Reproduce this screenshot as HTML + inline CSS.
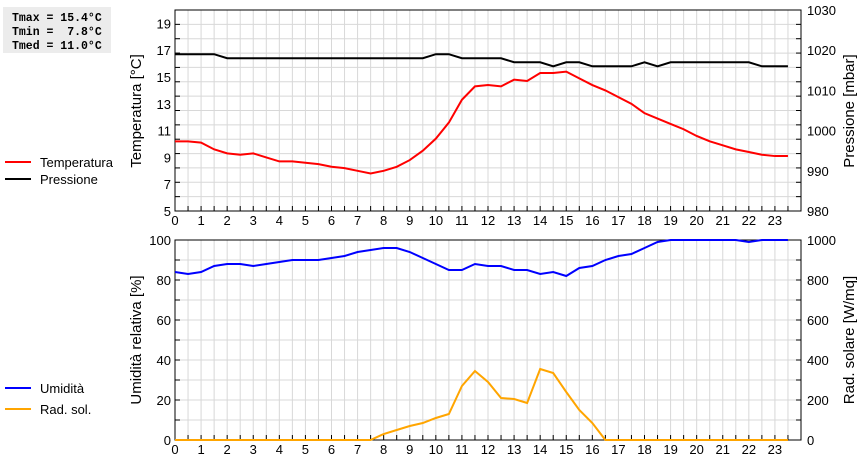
<!DOCTYPE html>
<html><head><meta charset="utf-8"><style>
body{margin:0;background:#fff;width:860px;height:460px;overflow:hidden}
svg{font-family:"Liberation Sans",sans-serif;display:block}
</style></head><body>
<svg id="c" width="860" height="460">
<rect x="3" y="7" width="108" height="46" fill="#ececec"/>
<text x="12" y="21" font-family="Liberation Mono,monospace" font-weight="bold" font-size="11.5" xml:space="preserve">Tmax = 15.4°C</text>
<text x="12" y="35" font-family="Liberation Mono,monospace" font-weight="bold" font-size="11.5" xml:space="preserve">Tmin =  7.8°C</text>
<text x="12" y="49" font-family="Liberation Mono,monospace" font-weight="bold" font-size="11.5" xml:space="preserve">Tmed = 11.0°C</text>
<g><line x1="5" y1="162" x2="31" y2="162" stroke="#f00" stroke-width="2"/><text x="40" y="167" font-size="13">Temperatura</text></g>
<g><line x1="5" y1="179" x2="31" y2="179" stroke="#000" stroke-width="2"/><text x="40" y="184" font-size="13">Pressione</text></g>
<g><line x1="5" y1="388" x2="31" y2="388" stroke="#00f" stroke-width="2"/><text x="40" y="393" font-size="13">Umidità</text></g>
<g><line x1="5" y1="409" x2="31" y2="409" stroke="#ffa500" stroke-width="2"/><text x="40" y="414" font-size="13">Rad. sol.</text></g>
<text transform="translate(141,111) rotate(-90)" text-anchor="middle" font-size="15">Temperatura [°C]</text>
<text transform="translate(854,111) rotate(-90)" text-anchor="middle" font-size="15">Pressione [mbar]</text>
<text transform="translate(141,340) rotate(-90)" text-anchor="middle" font-size="15">Umidità relativa [%]</text>
<text transform="translate(854,340) rotate(-90)" text-anchor="middle" font-size="15">Rad. solare [W/mq]</text>
</svg>
<script>
const hours=[0,0.5,1,1.5,2,2.5,3,3.5,4,4.5,5,5.5,6,6.5,7,7.5,8,8.5,9,9.5,10,10.5,11,11.5,12,12.5,13,13.5,14,14.5,15,15.5,16,16.5,17,17.5,18,18.5,19,19.5,20,20.5,21,21.5,22,22.5,23,23.5];
const temperatura=[10.2,10.2,10.1,9.6,9.3,9.2,9.3,9.0,8.7,8.7,8.6,8.5,8.3,8.2,8.0,7.8,8.0,8.3,8.8,9.5,10.4,11.6,13.3,14.3,14.4,14.3,14.8,14.7,15.3,15.3,15.4,14.9,14.4,14.0,13.5,13.0,12.3,11.9,11.5,11.1,10.6,10.2,9.9,9.6,9.4,9.2,9.1,9.1];
const pressione=[1019,1019,1019,1019,1018,1018,1018,1018,1018,1018,1018,1018,1018,1018,1018,1018,1018,1018,1018,1018,1019,1019,1018,1018,1018,1018,1017,1017,1017,1016,1017,1017,1016,1016,1016,1016,1017,1016,1017,1017,1017,1017,1017,1017,1017,1016,1016,1016];
const umidita=[84,83,84,87,88,88,87,88,89,90,90,90,91,92,94,95,96,96,94,91,88,85,85,88,87,87,85,85,83,84,82,86,87,90,92,93,96,99,100,100,100,100,100,100,99,100,100,100];
const radiazione=[0,0,0,0,0,0,0,0,0,0,0,0,0,0,0,0,30,50,70,85,110,130,270,345,290,210,205,185,355,335,240,150,85,0,0,0,0,0,0,0,0,0,0,0,0,0,0,0];
const xTicks=[0,1,2,3,4,5,6,7,8,9,10,11,12,13,14,15,16,17,18,19,20,21,22,23];
const tTicks=[5,7,9,11,13,15,17,19];
const pTicks=[980,990,1000,1010,1020,1030];
const hTicks=[0,20,40,60,80,100];
const rTicks=[0,200,400,600,800,1000];

const NS="http://www.w3.org/2000/svg",svg=document.getElementById('c');
const X0=175,X1=801,xs=h=>X0+h*(X1-X0)/24;
function el(t,a,p){const e=document.createElementNS(NS,t);for(const k in a)e.setAttribute(k,a[k]);(p||svg).appendChild(e);return e;}
function panel(top,bot,lmin,lmax,rmin,rmax,lt,rt,pre){
  const yl=v=>bot-(v-lmin)/(lmax-lmin)*(bot-top), yr=v=>bot-(v-rmin)/(rmax-rmin)*(bot-top);
  const g=el('g',{});
  
  
  for(let h=0.5;h<24;h+=0.5)el('line',{x1:xs(h),x2:xs(h),y1:top,y2:bot,stroke:'#d8d8d8'},g);
  const step=(lmax-lmin)/ (lt.length-1)/2;
  for(let v=lmin+step;v<lmax;v+=step)el('line',{x1:X0,x2:X1,y1:yl(v),y2:yl(v),stroke:'#d8d8d8'},g);
  const ax=el('g',{});
  
  
  el('rect',{x:X0,y:top,width:X1-X0,height:bot-top,fill:'none',stroke:'#000'},ax);
  for(let h=0;h<24;h+=0.5)el('line',{x1:xs(h),x2:xs(h),y1:bot,y2:bot-5,stroke:'#000'},ax);
  for(let v=lmin;v<=lmax+1e-9;v+=step){el('line',{x1:X0,x2:X0+5,y1:yl(v),y2:yl(v),stroke:'#000'},ax);el('line',{x1:X1,x2:X1-5,y1:yl(v),y2:yl(v),stroke:'#000'},ax);}
  xTicks.forEach(h=>{const t=el('text',{x:xs(h),y:bot+14,'text-anchor':'middle','font-size':13},ax);t.textContent=h;});
  lt.forEach(v=>{const t=el('text',{x:X0-4,y:yl(v)+5,'text-anchor':'end','font-size':13},ax);t.textContent=v;});
  rt.forEach(v=>{const t=el('text',{x:X1+6,y:yr(v)+5,'font-size':13},ax);t.textContent=v;});
  return [yl,yr];
}
function line(vals,ys,color,name){
  const p=el('polyline',{points:vals.map((v,i)=>xs(hours[i])+','+ys(v)).join(' '),fill:'none',stroke:color,'stroke-width':2});
  
  
}
const [ty,py]=panel(10,211,5,20,980,1030,tTicks,pTicks,'top');
line(pressione,py,'#000','line-pressione');
line(temperatura,ty,'#f00','line-temperatura');
const [hy,ry]=panel(240,440,0,100,0,1000,hTicks,rTicks,'bottom');
line(radiazione,ry,'#ffa500','line-radiazione');
line(umidita,hy,'#00f','line-umidita');
</script>
</body></html>
